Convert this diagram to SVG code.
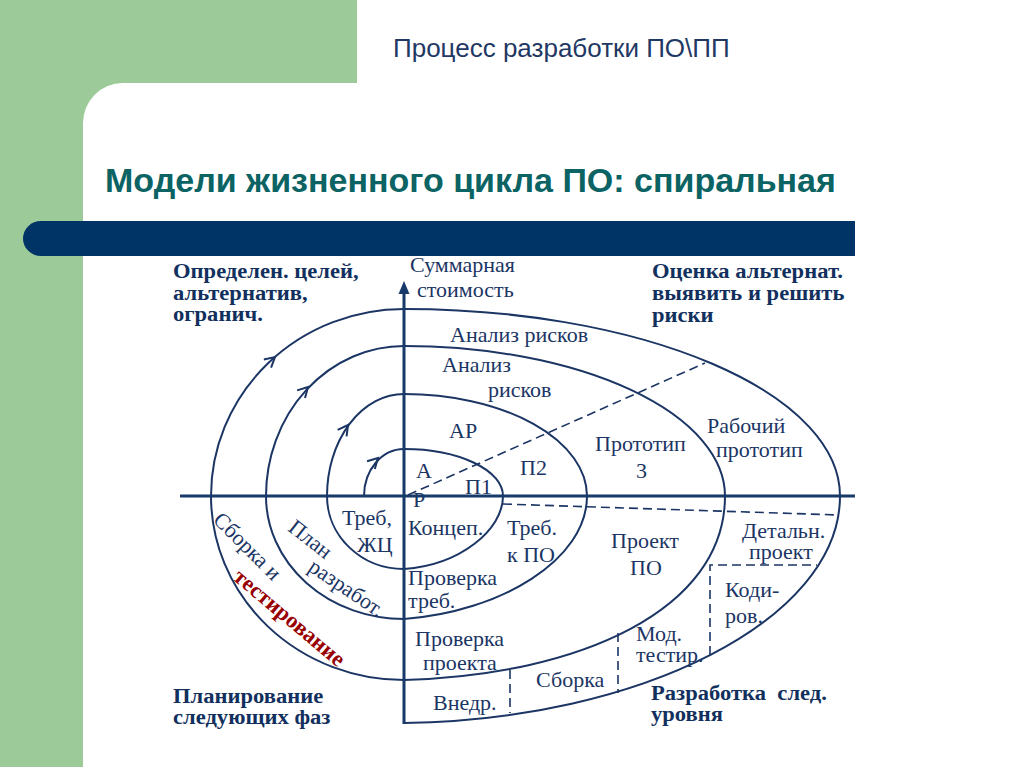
<svg xmlns="http://www.w3.org/2000/svg" width="1024" height="767" viewBox="0 0 1024 767">
<style>
.t{font-family:"Liberation Serif","Times New Roman",serif;font-size:22px;fill:#1b3564}
.b{font-family:"Liberation Serif","Times New Roman",serif;font-size:20px;font-weight:bold;fill:#12305e}
.ln{fill:none;stroke:#1b3564;stroke-width:2}
.ax{fill:none;stroke:#173a6b;stroke-width:3}
.ds{fill:none;stroke:#1b3564;stroke-width:1.6;stroke-dasharray:9 5}
</style>
<defs>
<path id="chev" d="M-10,-5.5 L0,0 L-10,5.5" fill="none" stroke="#1b3564" stroke-width="2"/>
</defs>
<rect width="1024" height="767" fill="#ffffff"/>
<g id="background">
<rect x="0" y="0" width="357" height="83" fill="#9ccb99"/>
<rect x="0" y="0" width="83" height="767" fill="#9ccb99"/>
<path d="M83,83 L123,83 A40,40 0 0 0 83,123 Z" fill="#9ccb99"/>
<path d="M855,221 H41 A18,17.5 0 0 0 41,256 H855 Z" fill="#003366"/>
<text x="393" y="57" style="font-family:'Liberation Sans',Arial,sans-serif;font-size:26px;fill:#1f3864">Процесс разработки ПО\ПП</text>
<text x="105" y="192" style="font-family:'Liberation Sans',Arial,sans-serif;font-size:34px;font-weight:bold;fill:#0b6363">Модели жизненного цикла ПО: спиральная</text>
</g>
<g id="labels">
<text class="t" x="410" y="272">Суммарная</text>
<text class="t" x="417" y="297">стоимость</text>
<text class="t" x="450" y="342">Анализ рисков</text>
<text class="t" x="442" y="372">Анализ</text>
<text class="t" x="488" y="397">рисков</text>
<text class="t" x="449" y="438">АР</text>
<text class="t" x="416" y="478">А</text>
<text class="t" x="413" y="507">Р</text>
<text class="t" x="465" y="494">П1</text>
<text class="t" x="520" y="475">П2</text>
<text class="t" x="595" y="451">Прототип</text>
<text class="t" x="636" y="478">3</text>
<text class="t" x="707" y="433">Рабочий</text>
<text class="t" x="716" y="457">прототип</text>
<text class="t" x="342" y="525">Треб,</text>
<text class="t" x="357" y="552">ЖЦ</text>
<text class="t" x="408" y="535">Концеп.</text>
<text class="t" x="507" y="535">Треб.</text>
<text class="t" x="507" y="562">к ПО</text>
<text class="t" x="611" y="548">Проект</text>
<text class="t" x="630" y="575">ПО</text>
<text class="t" x="742" y="538">Детальн.</text>
<text class="t" x="749" y="559">проект</text>
<text class="t" x="725" y="597">Коди-</text>
<text class="t" x="725" y="623">ров.</text>
<text class="t" x="408" y="585">Проверка</text>
<text class="t" x="408" y="608">треб.</text>
<text class="t" x="415" y="646">Проверка</text>
<text class="t" x="423" y="670">проекта</text>
<text class="t" x="636" y="641">Мод.</text>
<text class="t" x="636" y="662">тестир.</text>
<text class="t" x="536" y="687">Сборка</text>
<text class="t" x="433" y="710">Внедр.</text>
<text class="t" transform="translate(212,521) rotate(45)">Сборка и</text>
<text class="b" style="fill:#990000;font-size:22.5px" transform="translate(232,579) rotate(40)">тестирование</text>
<text class="t" transform="translate(287,530) rotate(38)">План</text>
<text class="t" transform="translate(307,570) rotate(34)">разработ.</text>
</g>
<g id="quadrant-labels" transform="scale(1.13,1)">
<text class="b" x="153.1" y="278">Определен. целей,</text>
<text class="b" x="153.1" y="300">альтернатив,</text>
<text class="b" x="153.1" y="321">огранич.</text>
<text class="b" x="577" y="278">Оценка альтернат.</text>
<text class="b" x="577" y="300">выявить и решить</text>
<text class="b" x="577" y="322">риски</text>
<text class="b" x="153.1" y="703">Планирование</text>
<text class="b" x="153.1" y="724">следующих фаз</text>
<text class="b" x="576.1" y="700" xml:space="preserve">Разработка  след.</text>
<text class="b" x="576.1" y="721">уровня</text>
</g>
<g id="connectors">
<path class="ln" d="M364,496 A40,47 0 0 1 404,449 A99,47 0 0 1 503,496 C503,530 460,565 404,569 A77,73 0 0 1 327,496 A77,102 0 0 1 404,394 A183,102 0 0 1 587,496 C587,560 500,612 404,619 A138,123 0 0 1 266,496 A138,150 0 0 1 404,346 A321,150 0 0 1 725,496 C725,610 580,675 404,680 A193,184 0 0 1 211,496 A193,187 0 0 1 404,309 A436,187 0 0 1 840,496 C840,620 640,720 404,723"/>
<use href="#chev" transform="translate(378,458) rotate(-45)"/>
<use href="#chev" transform="translate(348,425) rotate(-54)"/>
<use href="#chev" transform="translate(308,387) rotate(-46)"/>
<use href="#chev" transform="translate(275,357) rotate(-41)"/>
<path class="ds" d="M408,495 L705,363"/>
<path class="ds" d="M503,504 L839,515"/>
<path class="ds" d="M710,655 V565 H817"/>
<path class="ds" d="M618,633 V693"/>
<path class="ds" d="M510,670 V713"/>
<path class="ax" d="M180,496 H855"/>
<path class="ax" d="M404,724 V292"/>
<polygon points="404,281 398.5,294 409.5,294" fill="#173a6b"/>
</g>
</svg>
